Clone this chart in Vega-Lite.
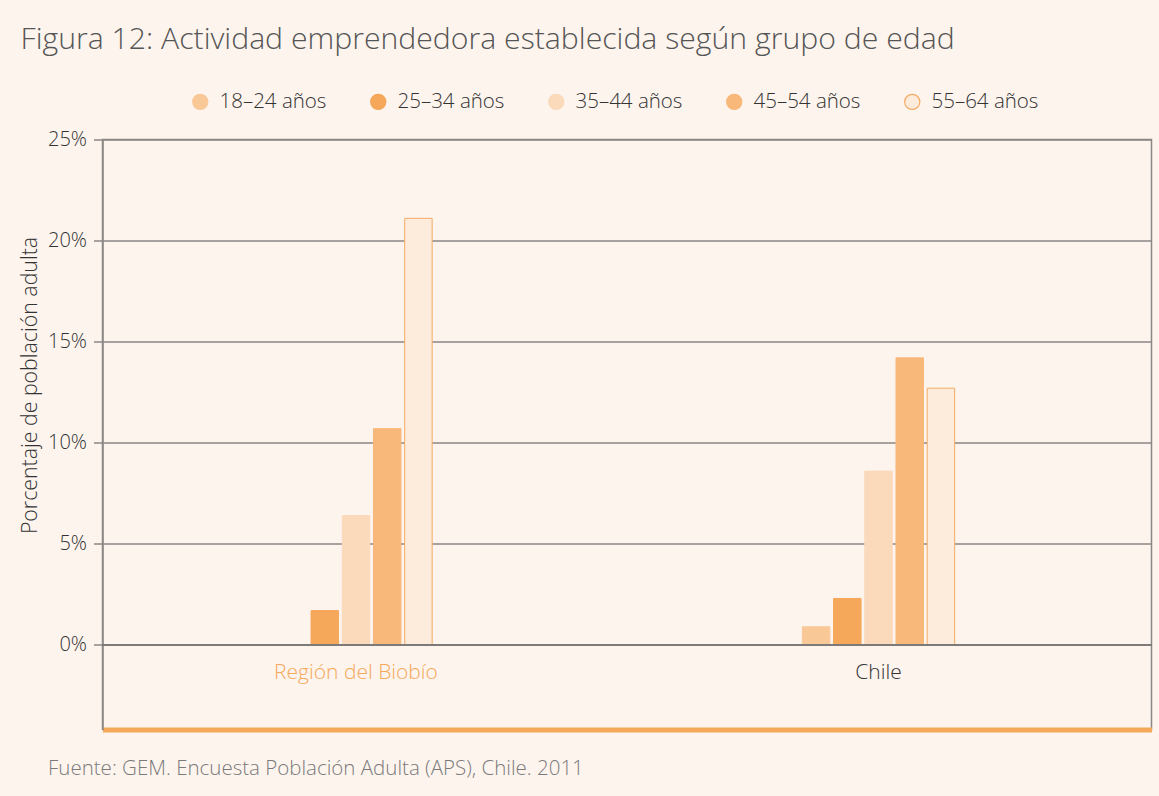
{
  "$schema": "https://vega.github.io/schema/vega-lite/v6.json",
  "width": 1049,
  "height": 590,
  "autosize": {"type": "none"},
  "padding": {"left": 102.5, "top": 139.5, "right": 7.5, "bottom": 66.5},
  "background": "#fdf4ee",
  "title": {
    "text": "Figura 12: Actividad emprendedora establecida según grupo de edad",
    "anchor": "start",
    "frame": "group",
    "orient": "top",
    "baseline": "alphabetic",
    "dx": -82,
    "offset": 12,
    "font": "Open Sans",
    "fontSize": 30.2,
    "fontWeight": 300,
    "color": "#555555"
  },
  "data": {
    "values": [
      {"region": "Región del Biobío", "grupo": "18–24 años", "valor": 0},
      {"region": "Región del Biobío", "grupo": "25–34 años", "valor": 1.7},
      {"region": "Región del Biobío", "grupo": "35–44 años", "valor": 6.4},
      {"region": "Región del Biobío", "grupo": "45–54 años", "valor": 10.7},
      {"region": "Región del Biobío", "grupo": "55–64 años", "valor": 21.1},
      {"region": "Chile", "grupo": "18–24 años", "valor": 0.9},
      {"region": "Chile", "grupo": "25–34 años", "valor": 2.3},
      {"region": "Chile", "grupo": "35–44 años", "valor": 8.6},
      {"region": "Chile", "grupo": "45–54 años", "valor": 14.2},
      {"region": "Chile", "grupo": "55–64 años", "valor": 12.7}
    ]
  },
  "config": {
    "font": "Open Sans",
    "view": {"stroke": "#8a8784", "strokeWidth": 1.5}
  },
  "layer": [
    {
      "mark": {"type": "bar", "strokeWidth": 1},
      "encoding": {
        "x": {
          "field": "region",
          "type": "nominal",
          "sort": ["Región del Biobío", "Chile"],
          "scale": {"paddingInner": 0.6488, "paddingOuter": 0.3282, "align": 0.4716},
          "axis": {
            "orient": "bottom",
            "title": "Fuente: GEM. Encuesta Población Adulta (APS), Chile. 2011",
            "titleAnchor": "start",
            "titleAlign": "left",
            "titleBaseline": "middle",
            "titleX": -55,
            "titleY": 38.5,
            "titleFont": "Open Sans",
            "titleFontSize": 20.5,
            "titleFontWeight": 300,
            "titleColor": "#7a7a7a",
            "domainColor": "#f5a85a",
            "domainWidth": 5,
            "domainCap": "butt",
            "ticks": false,
            "labelAngle": 0,
            "labelBaseline": "middle",
            "labelPadding": -57.5,
            "labelFont": "Open Sans",
            "labelFontSize": 21,
            "labelFontWeight": 300,
            "labelColor": {"condition": {"test": "datum.value == 'Región del Biobío'", "value": "#f5a85a"}, "value": "#333333"}
          }
        },
        "xOffset": {
          "field": "grupo",
          "type": "nominal",
          "sort": ["18–24 años", "25–34 años", "35–44 años", "45–54 años", "55–64 años"],
          "scale": {"paddingInner": 0.12, "paddingOuter": 0.5}
        },
        "y": {
          "field": "valor",
          "type": "quantitative",
          "scale": {"domain": [-4.18, 25], "nice": false, "zero": false},
          "axis": {
            "values": [0, 5, 10, 15, 20, 25],
            "labelExpr": "datum.value + '%'",
            "title": "Porcentaje de población adulta",
            "titleFont": "Open Sans",
            "titleFontSize": 21.3,
            "titleFontWeight": 300,
            "titleColor": "#333333",
            "titleX": -72,
            "titleY": 245.5,
            "titleAnchor": "middle",
            "titleBaseline": "middle",
            "titleAngle": -90,
            "labelFont": "Open Sans",
            "labelFontSize": 20,
            "labelFontWeight": 300,
            "labelColor": "#333333",
            "labelPadding": 7,
            "domainColor": "#8a8784",
            "domainWidth": 1.5,
            "tickColor": "#8a8784",
            "tickWidth": 1.5,
            "tickSize": 9,
            "gridColor": "#8a8784",
            "gridWidth": 1.5,
            "gridOpacity": 1
          }
        },
        "y2": {"datum": 0},
        "fill": {
          "field": "grupo",
          "type": "nominal",
          "sort": ["18–24 años", "25–34 años", "35–44 años", "45–54 años", "55–64 años"],
          "scale": {"range": ["#f9c897", "#f5a75a", "#fbdabb", "#f7b87a", "#fdebdc"]},
          "legend": {
            "title": null,
            "orient": "none",
            "direction": "horizontal",
            "columns": 5,
            "legendX": 87.5,
            "legendY": -48,
            "symbolType": "circle",
            "symbolSize": 230,
            "symbolStrokeWidth": 1.2,
            "labelFont": "Open Sans",
            "labelFontSize": 20.5,
            "labelFontWeight": 300,
            "labelColor": "#333333",
            "labelOffset": 9,
            "columnPadding": 41,
            "encode": {"symbols": {"update": {"stroke": {"scale": "stroke", "field": "value"}}}}
          }
        },
        "stroke": {
          "field": "grupo",
          "type": "nominal",
          "sort": ["18–24 años", "25–34 años", "35–44 años", "45–54 años", "55–64 años"],
          "scale": {"range": ["#f9c897", "#f5a75a", "#fbdabb", "#f7b87a", "#f4ab63"]},
          "legend": null
        }
      }
    },
    {
      "mark": {"type": "rule", "color": "#7d7a77", "strokeWidth": 2},
      "encoding": {"y": {"datum": 0}}
    }
  ]
}
